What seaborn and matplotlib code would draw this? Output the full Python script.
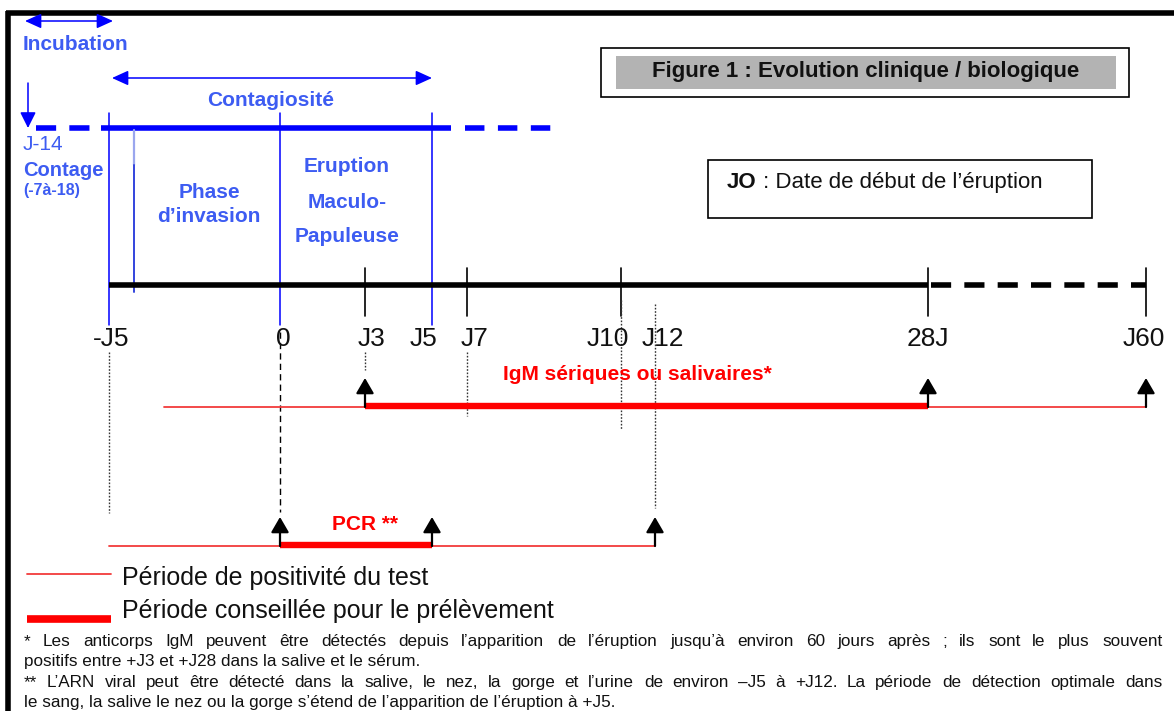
#!/usr/bin/env python3
"""
Redraw "Figure 1 : Evolution clinique / biologique" (measles timeline) as a
schematic on a pixel canvas, with seaborn styling.
"""
import matplotlib

matplotlib.use("Agg")
import matplotlib.pyplot as plt
import numpy as np
import pandas as pd
import seaborn as sns
from matplotlib.patches import Rectangle

# ---- data -----------------------------------------------------------------
day_labels = ["-J5", "0", "J3", "J5", "J7", "J10", "J12", "28J", "J60"]
day_values = [-5, 0, 3, 5, 7, 10, 12, 28, 60]
# the drawing's own (non-linear) scale: where each day sits on the canvas
day_scale = [109, 280, 365, 432, 467, 621, 655, 928, 1146]

test_names = ["IgM sériques ou salivaires*", "PCR **"]
positive_from = [-3.4, -5]
positive_to = [60.3, 12]
advised_from = [3, 0]
advised_to = [28, 5]
arrow_days = [[3, 28, 60.3], [0, 5, 12]]

phase_bounds = [-5, 0, 5]  # invasion / eruption limits (blue verticals)
solid_ticks = [3, 7, 10, 28, 60]
dotted_guides = [-5, 3, 7, 10, 12]

legend_labels = ["Période de positivité du test",
                 "Période conseillée pour le prélèvement"]

footnotes = [
    "* Les anticorps IgM peuvent être détectés depuis l’apparition de l’éruption jusqu’à environ 60 jours après ; ils sont le plus souvent",
    "positifs entre +J3 et +J28 dans la salive et le sérum.",
    "** L’ARN viral peut être détecté dans la salive, le nez, la gorge et l’urine de environ –J5 à +J12. La période de détection optimale dans",
    "le sang, la salive le nez ou la gorge s’étend de l’apparition de l’éruption à +J5.",
]
justify_line = [True, False, True, False]

BLUE = "#0000ff"
BLUE_TXT = "#3d5cf2"
RED = "#ff0000"
RED_THIN = "#f23c3c"
INK = "#111111"


def X(day):
    return float(np.interp(day, day_values, day_scale))


sns.set_theme(style="white", rc={"lines.scale_dashes": False})
plt.rcParams["font.family"] = ["Liberation Sans", "DejaVu Sans"]

W, H = 1174, 711
fig = plt.figure(figsize=(W / 100, H / 100), dpi=100)
ax = fig.add_axes([0, 0, 1, 1])
ax.set_xlim(0, W)
ax.set_ylim(H, 0)
ax.axis("off")
fig.canvas.draw()
renderer = fig.canvas.get_renderer()


def text_width(s, **kw):
    t = ax.text(0, 0, s, **kw)
    w = t.get_window_extent(renderer).width
    t.remove()
    return w


# frame
ax.plot([8, 8], [11, H], color="black", lw=4, solid_capstyle="butt")
ax.plot([6, W], [13, 13], color="black", lw=4, solid_capstyle="butt")

# ---- blue clinical phases ------------------------------------------------
arrow_kw = dict(arrowstyle="<|-|>,head_length=0.55,head_width=0.25",
                color=BLUE, lw=1.1, shrinkA=0, shrinkB=0, mutation_scale=18)
ax.annotate("", xy=(25, 21), xytext=(113, 21), arrowprops=arrow_kw)
ax.text(23, 44, "Incubation", color=BLUE_TXT, fontsize=15, fontweight="bold", va="center")
ax.annotate("", xy=(112, 78), xytext=(432, 78), arrowprops=arrow_kw)
ax.text(271, 101, "Contagiosité", color=BLUE_TXT, fontsize=15, fontweight="bold",
        va="center", ha="center")

ax.annotate("", xy=(28, 128), xytext=(28, 83),
            arrowprops=dict(arrowstyle="-|>,head_length=0.6,head_width=0.3", color=BLUE,
                            lw=1.1, shrinkA=0, shrinkB=0, mutation_scale=16))
ax.plot([36, 100], [128, 128], color=BLUE, lw=4, linestyle=(0, (14.5, 9.5)),
        dash_capstyle="butt")
ax.plot([101, 451], [128, 128], color=BLUE, lw=4, solid_capstyle="butt")
ax.plot([465, 552], [128, 128], color=BLUE, lw=4, linestyle=(0, (14, 9.7)),
        dash_capstyle="butt")

for d in phase_bounds:
    ax.plot([X(d), X(d)], [113, 325], color=BLUE, lw=1.1)
ax.plot([134, 134], [130, 165], color="#9aa6ee", lw=1.6)
ax.plot([134, 134], [165, 292], color="#3344dd", lw=1.4)

ax.text(23, 145, "J-14", color=BLUE_TXT, fontsize=15, va="center")
ax.text(23, 170, "Contage", color=BLUE_TXT, fontsize=14.5, fontweight="bold", va="center")
ax.text(23, 190, "(-7à-18)", color=BLUE_TXT, fontsize=11.5, fontweight="bold", va="center")
ax.text(209, 193, "Phase", color=BLUE_TXT, fontsize=15, fontweight="bold", ha="center", va="center")
ax.text(209, 216, "d’invasion", color=BLUE_TXT, fontsize=15, fontweight="bold", ha="center", va="center")
for txt, yy in zip(["Eruption", "Maculo-", "Papuleuse"], [167, 202, 237]):
    ax.text(347, yy, txt, color=BLUE_TXT, fontsize=15, fontweight="bold", ha="center", va="center")

# ---- boxes -----------------------------------------------------------------
ax.add_patch(Rectangle((601, 48), 528, 49, fill=False, ec="black", lw=1.2))
ax.add_patch(Rectangle((616, 56), 500, 33, fc="#b3b3b3", ec="none"))
ax.text(866, 71, "Figure 1 : Evolution clinique / biologique", fontsize=16,
        fontweight="bold", ha="center", va="center", color=INK)

ax.add_patch(Rectangle((708, 160), 384, 58, fill=False, ec="black", lw=1.2))
jo_w = text_width("JO", fontsize=16, fontweight="bold")
ax.text(727, 188, "JO", fontsize=16, fontweight="bold", va="baseline", color=INK)
ax.text(727 + jo_w, 188, " : Date de début de l’éruption", fontsize=16, va="baseline", color=INK)

# ---- time axis -----------------------------------------------------------
ax.plot([X(-5), X(28)], [285, 285], color="black", lw=4, solid_capstyle="butt")
ax.plot([X(28) + 3, X(60)], [285, 285], color="black", lw=4,
        linestyle=(0, (14.5, 9.5)), dash_capstyle="butt")
for d in solid_ticks:
    ax.plot([X(d), X(d)], [268, 316], color="black", lw=1.2)

label_shift = {"-J5": 2, "0": 3, "J3": 7, "J5": -8, "J7": 8, "J10": -13, "J12": 8, "J60": -2}
for lab, d in zip(day_labels, day_values):
    ax.text(X(d) + label_shift.get(lab, 0), 339, lab, fontsize=19, ha="center",
            va="center", color=INK)

guide_end = {-5: 513, 3: 370, 7: 416, 10: 430, 12: 508}
guide_start = {-5: 352, 3: 352, 7: 352, 10: 300, 12: 304}
for d in dotted_guides:
    ax.plot([X(d), X(d)], [guide_start[d], guide_end[d]], color="#333333", lw=1,
            linestyle=(0, (1.2, 1.2)))
ax.plot([X(0), X(0)], [332, 512], color="black", lw=1, linestyle=(0, (4.5, 3)))

# ---- test periods (seaborn lines) ----------------------------------------
row_y = [407, 546]
thin_rows, thick_rows = [], []
for i, name in enumerate(test_names):
    for d in (positive_from[i], positive_to[i]):
        thin_rows.append({"test": name, "x": X(d), "y": row_y[i]})
    for d in (advised_from[i], advised_to[i]):
        thick_rows.append({"test": name, "x": X(d), "y": row_y[i] - 1})
thin_df = pd.DataFrame(thin_rows)
thick_df = pd.DataFrame(thick_rows)
sns.lineplot(data=thin_df, x="x", y="y", units="test", estimator=None, sort=False,
             color=RED_THIN, lw=1.3, ax=ax)
sns.lineplot(data=thick_df, x="x", y="y", units="test", estimator=None, sort=False,
             color=RED, lw=4.6, ax=ax, solid_capstyle="butt")

up_kw = dict(arrowstyle="-|>,head_length=0.55,head_width=0.32", color="black",
             lw=1.6, shrinkA=0, shrinkB=0, mutation_scale=17)
for i, days in enumerate(arrow_days):
    for d in days:
        ax.annotate("", xy=(X(d), row_y[i] - 29), xytext=(X(d), row_y[i]), arrowprops=up_kw)

ax.text(637, 375, test_names[0], color=RED, fontsize=15, fontweight="bold",
        ha="center", va="center")
ax.text(365, 524, test_names[1], color=RED, fontsize=15, fontweight="bold",
        ha="center", va="center")

# ---- legend ----------------------------------------------------------------
ax.plot([27, 111], [574, 574], color=RED_THIN, lw=1.3)
ax.plot([27, 111], [619, 619], color=RED, lw=5.5, solid_capstyle="butt")
ax.text(122, 585, legend_labels[0], fontsize=18, va="baseline", color=INK)
ax.text(122, 618, legend_labels[1], fontsize=18, va="baseline", color=INK)

# ---- footnotes (word by word, justified like the source) -----------------
note_base = [646, 666, 687, 707]
note_size = 12.3
for line, yy, just in zip(footnotes, note_base, justify_line):
    if not just:
        ax.text(24, yy, line, fontsize=note_size, va="baseline", color=INK)
        continue
    words = line.split(" ")
    widths = [text_width(w, fontsize=note_size) for w in words]
    gap = (1162 - 24 - sum(widths)) / (len(words) - 1)
    xpos = 24.0
    for w, wd in zip(words, widths):
        ax.text(round(xpos), yy, w, fontsize=note_size, va="baseline", color=INK)
        xpos += wd + gap

fig.savefig("out.png", dpi=100)
plt.close(fig)
